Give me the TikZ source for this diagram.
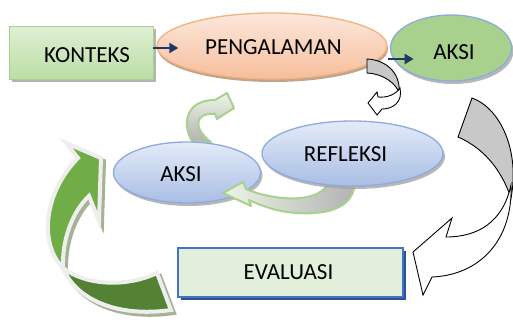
\documentclass[tikz,border=0pt]{standalone}
\usepackage{fontspec}
\setmainfont{Carlito}
\usetikzlibrary{shapes.geometric,arrows.meta,shadows}
\definecolor{navyc}{RGB}{31,56,100}
\definecolor{lgreen}{RGB}{112,173,71}
\definecolor{dgreen}{RGB}{84,130,53}
\definecolor{wborder}{RGB}{238,238,238}
\definecolor{shgreen}{RGB}{165,178,150}
\definecolor{peachtop}{RGB}{252,232,220}
\definecolor{peachbot}{RGB}{246,190,155}
\definecolor{orangeline}{RGB}{244,177,131}
\definecolor{blueline}{RGB}{143,170,220}
\definecolor{bluetop}{RGB}{228,235,248}
\definecolor{bluebot}{RGB}{168,190,228}
\definecolor{aksigreen}{RGB}{169,209,142}
\definecolor{ktop}{RGB}{222,239,211}
\definecolor{kbot}{RGB}{188,222,165}
\definecolor{evfill}{RGB}{226,239,218}
\definecolor{evline}{RGB}{68,114,196}
\definecolor{evshadow}{RGB}{47,82,143}
\definecolor{garrowline}{RGB}{169,209,142}
\definecolor{garrowlight}{RGB}{236,245,230}
\definecolor{grayback}{RGB}{200,200,200}
\newcommand\pLback{(78,158) -- (66,143) -- (101,158) -- (99,221) -- (89,196) .. controls (72,212) and (62,240) .. (63,268) .. controls (40,245) and (42,195) .. (78,158) -- cycle}
\newcommand\pLfront{(63,268) .. controls (75,298) and (115,318) .. (171,310) -- (157,273) .. controls (125,288) and (85,285) .. (63,268) -- cycle}
\tikzset{
  navyarrow/.style={draw=navyc, line width=2.5pt, -{Triangle[length=9pt,width=10pt]}},
  blueell/.style={ellipse, draw=blueline, line width=1.3pt, top color=bluetop, bottom color=bluebot,
     drop shadow={shadow xshift=2pt, shadow yshift=-3pt, fill=gray!70, opacity=0.8}},
  lbl/.style={font=\fontsize{23}{27}\selectfont, inner sep=0pt},
  greenarr/.style={draw=garrowline, line width=2pt, line join=round},
  grayarr/.style={draw=black, line width=0.9pt, line join=miter}
}
\begin{document}
\begin{tikzpicture}[x=1pt,y=-1pt]
\useasboundingbox (0,0) rectangle (513,327);
\fill[white] (0,0) rectangle (513,327);

% big left green arrow
\begin{scope}[line width=4pt]
  \filldraw[fill=shgreen, draw=shgreen, shift={(3,3)}] \pLback;
  \filldraw[fill=lgreen, draw=wborder] \pLback;
  \filldraw[fill=shgreen, draw=shgreen, shift={(3,3)}] \pLfront;
  \filldraw[fill=dgreen, draw=wborder] \pLfront;
\end{scope}

% small green arrow above lower AKSI
\path[greenarr, top color=garrowlight, bottom color=gray!60]
  (192,141) .. controls (182,125) and (185,100) .. (215,100) -- (227,93) -- (234,108) -- (217,119) -- (215,114)
  .. controls (195,112) and (192,128) .. (211,142) -- cycle;

% lower AKSI ellipse
\node[blueell, minimum width=147pt, minimum height=61pt] (aksib) at (187,172.5) {};

% green arrow from REFLEKSI to AKSI
\path[greenarr, left color=garrowlight, right color=gray!60]
  (328,183) -- (355,183) .. controls (353,207) and (330,215) .. (297,213)
  .. controls (278,212) and (262,206) .. (249,200) -- (251,206) -- (223,193) -- (243,182) -- (246,189)
  .. controls (268,199) and (318,206) .. (328,183) -- cycle;

% REFLEKSI ellipse
\node[blueell, minimum width=181pt, minimum height=65pt] (refl) at (352.5,153.5) {};

% KONTEKS box
\node[rectangle, minimum width=144pt, minimum height=53pt, inner sep=0pt,
  draw=aksigreen, line width=0.6pt, top color=ktop, bottom color=kbot,
  drop shadow={shadow xshift=2.5pt, shadow yshift=-2.5pt, fill=gray!65, opacity=0.9}] (konteks) at (81,53) {};

% PENGALAMAN ellipse
\node[ellipse, minimum width=230pt, minimum height=66pt, draw=orangeline, line width=1.3pt,
  top color=peachtop, bottom color=peachbot,
  drop shadow={shadow xshift=1pt, shadow yshift=-3pt, fill=brown!60!gray, opacity=0.7}] (peng) at (272,46) {};

% top AKSI ellipse
\node[ellipse, minimum width=121pt, minimum height=66pt, draw=blueline, line width=1.3pt,
  fill=aksigreen,
  drop shadow={shadow xshift=2pt, shadow yshift=-3pt, fill=gray!70, opacity=0.8}] (aksia) at (451,48) {};

% navy arrows
\draw[navyarrow] ([yshift=5pt]konteks.east) -- ++(25,0);
\draw[navyarrow] (peng.east |- 0,59) -- ++(26,0);

% small curved arrow PENGALAMAN -> REFLEKSI
\filldraw[grayarr, fill=grayback]
  (367,59) .. controls (388,60) and (401,75) .. (399,93) .. controls (397,85) and (385,74) .. (367,73) -- cycle;
\filldraw[grayarr, fill=white]
  (400,88) .. controls (403,102) and (393,109) .. (382,109) -- (377,115) -- (368,103) -- (377,92) -- (378,97)
  .. controls (388,98) and (396,94) .. (400,88) -- cycle;

% big right curved arrow AKSI -> EVALUASI
\filldraw[grayarr, fill=grayback]
  (472,98) .. controls (500,108) and (520,150) .. (511,198) .. controls (503,175) and (488,150) .. (458,137) -- cycle;
\filldraw[grayarr, fill=white]
  (511,185) .. controls (513,240) and (480,275) .. (432,277) -- (423,295) -- (413,252) -- (452,218) -- (446,237)
  .. controls (478,237) and (503,222) .. (511,185) -- cycle;

% EVALUASI box
\node[rectangle, minimum width=225pt, minimum height=49pt, inner sep=0pt,
  draw=evline, line width=1.8pt, fill=evfill,
  drop shadow={shadow xshift=3pt, shadow yshift=-3pt, fill=evshadow, opacity=1}] (eval) at (290.5,272.5) {};

% texts
\node[lbl] (tkonteks) at (87,55.5) {KONTEKS};
\node[lbl] (tpeng) at (273.5,47.5) {PENGALAMAN};
\node[lbl] (taksia) at (454,52.5) {AKSI};
\node[lbl] (trefl) at (345.5,154) {REFLEKSI};
\node[lbl] (taksib) at (181,174) {AKSI};
\node[lbl] (teval) at (288.5,272) {EVALUASI};
\end{tikzpicture}
\end{document}
